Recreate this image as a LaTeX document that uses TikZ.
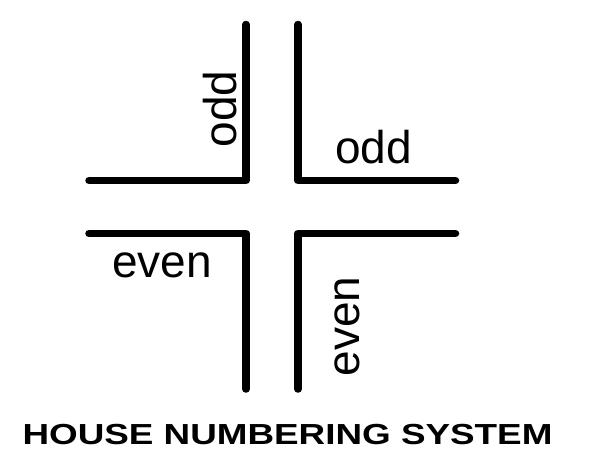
\documentclass[tikz,border=0pt]{standalone}
\usepackage{fontspec}
\setmainfont{Liberation Sans}
\begin{document}
\begin{tikzpicture}[x=1pt,y=-1pt,
  road/.style={line width=7.5pt,line cap=round,line join=round},
  lbl/.style={inner sep=0pt,anchor=base,font=\fontsize{46}{50}\selectfont},
  ttl/.style={inner sep=0pt,anchor=base,font=\bfseries\fontsize{29}{32}\selectfont}]
\useasboundingbox (0,0) rectangle (589,466);
\coordinate (tlA) at (246,24.5);
\coordinate (tlB) at (246,180.5);
\coordinate (tlC) at (89,180.5);
\coordinate (trA) at (298,24.5);
\coordinate (trB) at (298,180.5);
\coordinate (trC) at (455.5,180.5);
\coordinate (blA) at (89,233.5);
\coordinate (blB) at (246,233.5);
\coordinate (blC) at (246,389);
\coordinate (brA) at (455.5,233.5);
\coordinate (brB) at (298,233.5);
\coordinate (brC) at (298,389);
\draw[road] (tlA) -- (tlB) -- (tlC);
\draw[road] (trA) -- (trB) -- (trC);
\draw[road] (blA) -- (blB) -- (blC);
\draw[road] (brA) -- (brB) -- (brC);
\node[lbl,rotate=90] (oddv) at (236,109) {odd};
\node[lbl] (oddh) at (373.5,163) {odd};
\node[lbl] (evenh) at (162,277) {even};
\node[lbl,rotate=90] (evenv) at (359,326.5) {even};
\node[ttl,xscale=1.27] (title) at (287.5,444) {HOUSE NUMBERING SYSTEM};
\end{tikzpicture}
\end{document}
